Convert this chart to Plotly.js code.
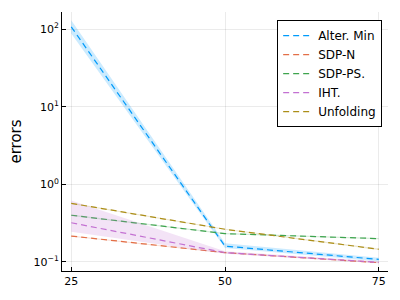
<!DOCTYPE html>
<html>
<head>
<meta charset="utf-8">
<script src="https://cdn.plot.ly/plotly-3.0.1.min.js"></script>
<style>html,body{margin:0;padding:0;background:#fff;}#chart{width:400px;height:300px;}</style>
</head>
<body>
<div id="chart"></div>
<script>
var xs = [25, 50, 75];
var names = ["Alter. Min", "SDP-N", "SDP-PS.", "IHT.", "Unfolding"];
var colors = ["#009AFA", "#E36F47", "#3EA44E", "#C371D2", "#AC8E18"];
var alterMin   = [107, 0.160, 0.108];
var alterMinLo = [88, 0.152, 0.102];
var alterMinHi = [130, 0.174, 0.113];
var sdpN   = [0.216, 0.132, 0.098];
var sdpNLo = [0.212, 0.130, 0.096];
var sdpNHi = [0.220, 0.134, 0.100];
var sdpPS   = [0.40, 0.232, 0.200];
var sdpPSLo = [0.39, 0.228, 0.197];
var sdpPSHi = [0.41, 0.236, 0.203];
var iht   = [0.32, 0.132, 0.099];
var ihtLo = [0.245, 0.128, 0.096];
var ihtHi = [0.62, 0.138, 0.102];
var unfolding   = [0.57, 0.264, 0.146];
var unfoldingLo = [0.56, 0.260, 0.143];
var unfoldingHi = [0.58, 0.268, 0.149];
var yTickVals = [0.1, 1, 10, 100];
var yTickText = ["10<sup>\u22121</sup>", "10<sup>0</sup>", "10<sup>1</sup>", "10<sup>2</sup>"];
var xTickVals = [25, 50, 75];

var series = [
  [alterMin, alterMinLo, alterMinHi],
  [sdpN, sdpNLo, sdpNHi],
  [sdpPS, sdpPSLo, sdpPSHi],
  [iht, ihtLo, ihtHi],
  [unfolding, unfoldingLo, unfoldingHi]
];
function rgba(hex, a) {
  var r = parseInt(hex.slice(1,3),16), g = parseInt(hex.slice(3,5),16), b = parseInt(hex.slice(5,7),16);
  return "rgba(" + r + "," + g + "," + b + "," + a + ")";
}
var traces = [];
series.forEach(function(s, i) {
  traces.push({x: xs, y: s[1], mode: "lines", line: {width: 0, color: colors[i]}, showlegend: false, hoverinfo: "skip"});
  traces.push({x: xs, y: s[2], mode: "lines", line: {width: 0, color: colors[i]}, fill: "tonexty", fillcolor: rgba(colors[i], 0.2), showlegend: false, hoverinfo: "skip"});
  traces.push({x: xs, y: s[0], mode: "lines", name: names[i], line: {width: 1.2, color: colors[i], dash: "6px,4px"}});
});

var layout = {
  width: 400, height: 300,
  margin: {l: 62, r: 12, t: 12, b: 29},
  paper_bgcolor: "#fff", plot_bgcolor: "#fff",
  font: {family: "DejaVu Sans", size: 11, color: "#000"},
  showlegend: true,
  legend: {x: 0.66, y: 0.969, xanchor: "left", yanchor: "top", bgcolor: "#fff", bordercolor: "#000", borderwidth: 1,
           traceorder: "normal",
           font: {family: "DejaVu Sans", size: 12}, tracegroupgap: 0, itemwidth: 30},
  xaxis: {range: [23.5, 76.5], tickvals: xTickVals, ticks: "inside", ticklen: 4, tickcolor: "#000",
          showline: true, linecolor: "#000", linewidth: 1, mirror: false,
          showgrid: true, gridcolor: "rgba(0,0,0,0.08)", zeroline: false, tickfont: {size: 11}},
  yaxis: {type: "log", range: [-1.116, 2.22], tickvals: yTickVals, ticktext: yTickText, ticks: "inside", ticklen: 4, tickcolor: "#000",
          showline: true, linecolor: "#000", linewidth: 1, mirror: false,
          showgrid: true, gridcolor: "rgba(0,0,0,0.08)", zeroline: false, tickfont: {size: 11},
          title: {text: "errors", font: {size: 15}, standoff: 8}}
};
Plotly.newPlot("chart", traces, layout, {displayModeBar: false, staticPlot: true});
</script>
</body>
</html>
